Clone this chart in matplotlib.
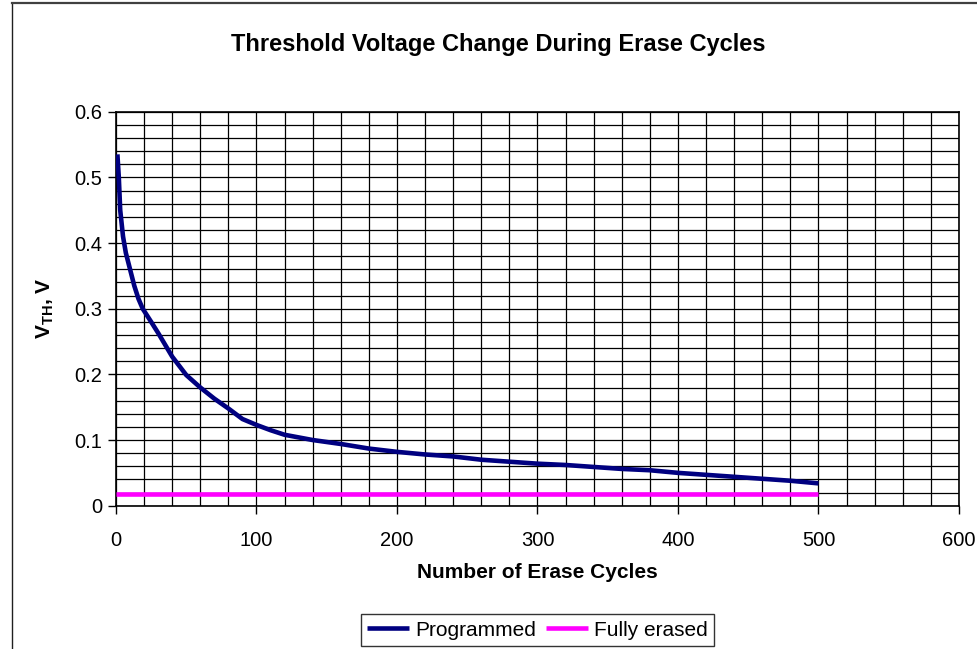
import matplotlib
matplotlib.use("Agg")
import matplotlib.pyplot as plt
from matplotlib.lines import Line2D
import numpy as np

plt.rcParams['font.family'] = ['Liberation Sans', 'DejaVu Sans']
plt.rcParams['mathtext.fontset'] = 'custom'
plt.rcParams['mathtext.rm'] = 'Liberation Sans'
plt.rcParams['mathtext.bf'] = 'Liberation Sans:bold'

# data
cycles = [1, 2, 3, 5, 7, 10, 13, 16, 19, 25, 30, 40, 50, 60, 70, 80, 90, 100,
          110, 120, 140, 160, 180, 200, 220, 240, 260, 280, 300, 320, 340, 360,
          380, 400, 420, 440, 460, 480, 500]
vth_programmed = [0.535, 0.50, 0.45, 0.41, 0.385, 0.36, 0.335, 0.315, 0.30,
                  0.28, 0.263, 0.227, 0.199, 0.18, 0.163, 0.148, 0.132, 0.123,
                  0.115, 0.108, 0.100, 0.094, 0.087, 0.082, 0.078, 0.075, 0.070,
                  0.067, 0.064, 0.062, 0.059, 0.056, 0.054, 0.050, 0.047, 0.044,
                  0.041, 0.038, 0.034]
erased_cycles = [0, 500]
vth_erased = [0.018, 0.018]

W, H = 978, 649
fig = plt.figure(figsize=(W / 100, H / 100), dpi=100)
ax = fig.add_axes([116 / W, 1 - 505.7 / H, (959 - 116) / W, (505.7 - 111.7) / H])

ax.plot(cycles, vth_programmed, color='#000080', lw=3.3, label='Programmed',
        solid_capstyle='butt', zorder=3)
ax.plot(erased_cycles, vth_erased, color='#FF00FF', lw=3.3, label='Fully erased',
        solid_capstyle='butt', zorder=3)

ax.set_xlim(0, 600)
ax.set_ylim(0, 0.6)
ax.set_xticks(np.arange(0, 601, 100))
ax.set_yticks(np.arange(0, 0.61, 0.1))
ax.set_yticklabels(['0', '0.1', '0.2', '0.3', '0.4', '0.5', '0.6'])
ax.set_xticks(np.arange(0, 601, 20), minor=True)
ax.set_yticks(np.arange(0, 0.601, 0.02), minor=True)
ax.grid(True, which='both', color='black', lw=0.9)
ax.set_axisbelow(True)
ax.tick_params(which='major', direction='out', length=6, width=1, labelsize=14.5, pad=4)
ax.tick_params(which='minor', length=0)
ax.tick_params(axis='x', pad=12)
for s in ax.spines.values():
    s.set_color('black')
    s.set_linewidth(1.2)

fig.text(498 / W, 1 - 45 / H, 'Threshold Voltage Change During Erase Cycles',
         ha='center', va='center', fontsize=17, fontweight='bold')
fig.text(537.5 / W, 1 - 573 / H, 'Number of Erase Cycles',
         ha='center', va='center', fontsize=15, fontweight='bold')
fig.text(45 / W, 1 - 308.7 / H, r'V$\mathbf{_{TH}}$, V', rotation=90,
         ha='center', va='center', fontsize=15, fontweight='bold')

leg = fig.legend(loc='center', bbox_to_anchor=(537.5 / W, 1 - 630 / H), ncol=2,
                 fontsize=15, frameon=True, fancybox=False, edgecolor='black',
                 handlelength=2.0, handletextpad=0.3, columnspacing=0.5,
                 borderpad=0.3, borderaxespad=0)
leg.get_frame().set_linewidth(1.0)

# outer chart-area border (cropped on right and bottom)
fig.add_artist(Line2D([12.5 / W, 12.5 / W], [0, 1 - 3 / H], transform=fig.transFigure,
                      color='#202020', lw=1.0))
fig.add_artist(Line2D([12.5 / W, 1], [1 - 3 / H, 1 - 3 / H], transform=fig.transFigure,
                      color='#404040', lw=1.6))

fig.savefig('out.png', dpi=100)
